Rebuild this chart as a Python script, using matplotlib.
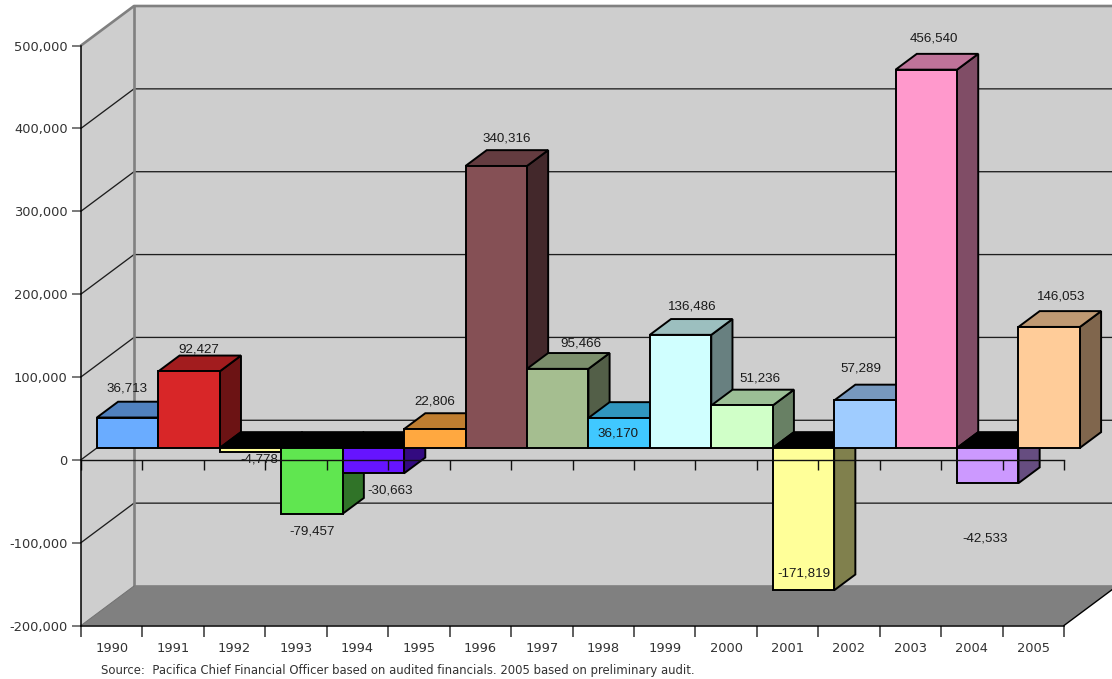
import matplotlib
matplotlib.use("Agg")
import matplotlib.pyplot as plt
from matplotlib.patches import Polygon
from matplotlib.colors import to_rgb
from matplotlib.ticker import FuncFormatter, FixedLocator, NullFormatter, FixedFormatter

years = [str(y) for y in range(1990, 2006)]
values = [36713, 92427, -4778, -79457, -30663, 22806, 340316, 95466,
          36170, 136486, 51236, -171819, 57289, 456540, -42533, 146053]
colors = ["#6AACFF", "#D82628", "#FFFF99", "#60E650", "#6614FF", "#FFA840", "#855055", "#A5BE90",
          "#40C8FF", "#D0FFFF", "#D0FFC8", "#FFFF99", "#9FCCFF", "#FF99CC", "#CC99FF", "#FFCC99"]
y_ticks = [-200000, -100000, 0, 100000, 200000, 300000, 400000, 500000]
# label offsets from the top of each bar's front face (pixels)
label_dx = [-1, 10, 8.5, 0, 16.5, 0, 10.5, 23, -1.5, 12, 17.5, 1, -3.5, 8, -2.5, 12]
label_dy = [29, 22, -8, -18, -17.5, 28, 27, 25, -16, 28, 27, 16.5, 32, 31, -55.6, 30]
source = "Source:  Pacifica Chief Financial Officer based on audited financials. 2005 based on preliminary audit."

W, H = 1112, 679
fig = plt.figure(figsize=(W / 100, H / 100), dpi=100, facecolor="white")
ax = fig.add_axes([81 / W, (H - 625.5) / H, 983 / W, 580 / H])
ax.patch.set_visible(False)
n = len(years)
ax.set_xlim(0, n)
ax.set_ylim(y_ticks[0], y_ticks[-1])
for s in ("top", "right"):
    ax.spines[s].set_visible(False)
for s in ("left", "bottom"):
    ax.spines[s].set_color("black")
    ax.spines[s].set_linewidth(1.1)
    ax.spines[s].set_zorder(50)

DX = 53 / (983 / n)            # chart depth, in categories
DY = 39.5 / (580 / 700000)     # chart depth, in value units
F0, F1 = 0.3, 0.7              # bar front and back, as a share of the depth


def pt(x, y, f):
    return (x + f * DX, y + f * DY)


def poly(points, fc, ec="none", lw=0, z=1):
    ax.add_patch(Polygon(points, closed=True, facecolor=fc, edgecolor=ec, linewidth=lw,
                         zorder=z, clip_on=False, joinstyle="miter"))


lo, hi = y_ticks[0], y_ticks[-1]
wall = "#CECECE"
edge = "#808080"
# back wall, side wall, floor
poly([pt(0, lo, 1), pt(n, lo, 1), pt(n, hi, 1), pt(0, hi, 1)], wall, z=1)
poly([pt(0, lo, 0), pt(0, lo, 1), pt(0, hi, 1), pt(0, hi, 0)], wall, z=1)
poly([pt(0, lo, 0), pt(n, lo, 0), pt(n, lo, 1), pt(0, lo, 1)], "#808080", z=1)

# grid lines on the walls
for v in y_ticks[1:-1]:
    xs, ys = zip(pt(0, v, 0), pt(0, v, 1), pt(n, v, 1))
    ax.plot(xs, ys, color="#1E1E1E", lw=0.95, zorder=2, clip_on=False)
# wall borders
xs, ys = zip(pt(0, hi, 0), pt(0, hi, 1), pt(n, hi, 1))
ax.plot(xs, ys, color=edge, lw=1.9, zorder=3, clip_on=False)
xs, ys = zip(pt(0, hi, 1), pt(0, lo, 1), pt(n, lo, 1))
ax.plot(xs, ys, color=edge, lw=1.9, zorder=3, clip_on=False)
xs, ys = zip(pt(0, lo, 0), pt(0, lo, 1))
ax.plot(xs, ys, color="#707070", lw=0.7, zorder=3, clip_on=False)
xs, ys = zip(pt(n, lo, 0), pt(n, lo, 1))
ax.plot(xs, ys, color="black", lw=1.0, zorder=3, clip_on=False)


def shade(c, k):
    return tuple(k * ch for ch in to_rgb(c))


# bars, left to right so each overlaps the previous one
z = 10
for i, (v, c) in enumerate(zip(values, colors)):
    kw = dict(ec="black", lw=1.4)
    top_face = shade(c, 0.75) if v > 0 else "black"
    side_top = max(v, 0)
    side_bot = min(v, 0)
    poly([pt(i + 1, side_bot, F0), pt(i + 1, side_bot, F1), pt(i + 1, side_top, F1), pt(i + 1, side_top, F0)],
         shade(c, 0.5), z=z, **kw)
    poly([pt(i, side_top, F0), pt(i + 1, side_top, F0), pt(i + 1, side_top, F1), pt(i, side_top, F1)],
         top_face, z=z + 0.1, **kw)
    poly([pt(i, side_bot, F0), pt(i + 1, side_bot, F0), pt(i + 1, side_top, F0), pt(i, side_top, F0)],
         c, z=z + 0.2, **kw)
    z += 1

# zero axis with ticks, drawn over the bars
ax.plot([0, n], [0, 0], color="#111111", lw=1.0, zorder=40, clip_on=False)
ax.vlines(range(n + 1), -12500, 0, color="#111111", lw=1.0, zorder=40, clip_on=False)

# value labels
for i, (v, dx, dy) in enumerate(zip(values, label_dx, label_dy)):
    x, y = pt(i + 0.5, v, F0)
    ax.annotate(f"{v:,}", xy=(x, y), xytext=(dx, dy), textcoords="offset pixels",
                ha="center", va="center", fontsize=9.6, family="Liberation Sans",
                color="#1A1A1A", zorder=60, annotation_clip=False)

# axes
ax.yaxis.set_major_locator(FixedLocator(y_ticks))
ax.yaxis.set_major_formatter(FuncFormatter(lambda v, _: f"{int(v):,}"))
ax.tick_params(axis="y", length=6.5, width=1.1, color="#555555", pad=3, labelsize=9.4, labelcolor="#333333")
ax.xaxis.set_major_locator(FixedLocator(list(range(n + 1))))
ax.xaxis.set_major_formatter(NullFormatter())
ax.xaxis.set_minor_locator(FixedLocator([i + 0.5 for i in range(n)]))
ax.xaxis.set_minor_formatter(FixedFormatter(years))
ax.tick_params(axis="x", which="major", length=8, width=1.1, color="#333333")
ax.tick_params(axis="x", which="minor", length=0, pad=12, labelsize=9.4, labelcolor="#333333")

fig.text(101 / W, (H - 670.5) / H, source, fontsize=8.36, color="#333333", va="center", ha="left",
         family="DejaVu Sans")

fig.savefig("out.png", dpi=100)
